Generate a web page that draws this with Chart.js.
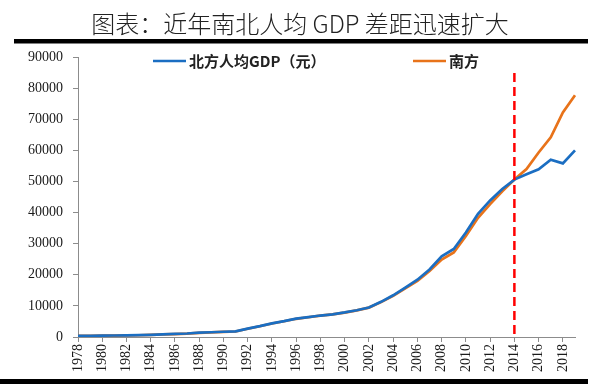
<!DOCTYPE html>
<html>
<head>
<meta charset="utf-8">
<style>
  html, body { margin: 0; padding: 0; background: #fff; }
  #wrap { width: 600px; height: 386px; position: relative; }
</style>
<script src="https://cdn.jsdelivr.net/npm/chart.js@4/dist/chart.umd.min.js"></script>
</head>
<body>
<div id="wrap"><canvas id="gapChart" width="600" height="386"></canvas></div>
<script>
/* 南北人均GDP对比 — line chart, 1978-2019 */

const TITLE = "图表：近年南北人均 GDP 差距迅速扩大";
const YEARS = [];
for (let y = 1978; y <= 2019; y++) YEARS.push(String(y));

const NORTH_LABEL = "北方人均GDP（元）";
const SOUTH_LABEL = "南方";
const MARK_YEAR = "2014";

// values (元)
const NORTH = [
  350, 400, 450, 480, 520, 590, 700, 870, 980, 1120,
  1380, 1520, 1680, 1820, 2700, 3500, 4400, 5100, 5900, 6400,
  6900, 7300, 7900, 8600, 9500, 11300, 13400, 15900, 18400, 21700,
  25900, 28300, 33600, 39600, 43900, 47600, 50600, 52300, 53900, 57000,
  55800, 60000
];
const SOUTH = [
  330, 380, 430, 460, 500, 560, 660, 830, 940, 1080,
  1330, 1470, 1620, 1760, 2650, 3450, 4350, 5050, 5850, 6350,
  6850, 7250, 7850, 8550, 9450, 11200, 13200, 15600, 18000, 21200,
  24900, 27200, 32500, 38300, 42700, 46800, 50600, 54000, 59300, 64200,
  72200, 77700
];

const Y_MAX = 90000;
const Y_STEP = 10000;

const BLUE = "#1b6ec2";
const ORANGE = "#e8731a";
const SERIF = "'Liberation Serif', 'DejaVu Serif', serif";
const CJK = "'Noto Sans CJK SC', sans-serif";

(function () {
  "use strict";

  const decor = {
    id: "decor",
    afterDraw(chart) {
      const ctx = chart.ctx;
      const area = chart.chartArea;
      const xs = chart.scales.x;

      ctx.save();
      // title
      ctx.fillStyle = "#222";
      ctx.font = "300 24px " + CJK;
      ctx.textAlign = "center";
      ctx.textBaseline = "middle";
      ctx.fillText(TITLE, 300, 24);

      // rules
      ctx.fillStyle = "#000";
      ctx.fillRect(14, 39, 574, 4.5);
      ctx.fillRect(0, 379, 588, 5);

      // 2014 marker
      const mx = xs.getPixelForValue(MARK_YEAR);
      ctx.strokeStyle = "#ff0000";
      ctx.lineWidth = 2.5;
      ctx.setLineDash([9, 5]);
      ctx.beginPath();
      ctx.moveTo(mx, 73);
      ctx.lineTo(mx, area.bottom);
      ctx.stroke();
      ctx.setLineDash([]);

      // legend
      const items = [
        { x: 153, ds: chart.data.datasets[0] },
        { x: 413, ds: chart.data.datasets[1] }
      ];
      ctx.textAlign = "left";
      ctx.textBaseline = "middle";
      ctx.font = "bold 15px " + CJK;
      items.forEach(it => {
        ctx.strokeStyle = it.ds.borderColor;
        ctx.lineWidth = 2.5;
        ctx.beginPath();
        ctx.moveTo(it.x, 61);
        ctx.lineTo(it.x + 33, 61);
        ctx.stroke();
        ctx.fillStyle = "#222";
        ctx.fillText(it.ds.label, it.x + 36, 61);
      });
      ctx.restore();
    }
  };

  new Chart(document.getElementById("gapChart"), {
    type: "line",
    data: {
      labels: YEARS,
      datasets: [
        { label: NORTH_LABEL, data: NORTH, borderColor: BLUE, backgroundColor: BLUE,
          borderWidth: 2.7, pointRadius: 0, tension: 0 },
        { label: SOUTH_LABEL, data: SOUTH, borderColor: ORANGE, backgroundColor: ORANGE,
          borderWidth: 2.7, pointRadius: 0, tension: 0 }
      ]
    },
    options: {
      responsive: false,
      animation: false,
      layout: { padding: { top: 57, left: 18, right: 25, bottom: 12 } },
      plugins: {
        legend: { display: false },
        tooltip: { enabled: false }
      },
      scales: {
        x: {
          type: "category",
          offset: false,
          grid: {
            drawOnChartArea: false,
            tickLength: 5,
            color: (c) => (c.index % 2 === 0 ? "#8c8c8c" : "rgba(0,0,0,0)")
          },
          border: { color: "#8c8c8c", width: 1 },
          ticks: {
            autoSkip: false,
            minRotation: 90,
            maxRotation: 90,
            padding: 2,
            color: "#1a1a1a",
            font: { family: SERIF, size: 14 },
            callback: (v, i) => (i % 2 === 0 ? YEARS[i] : "")
          }
        },
        y: {
          min: 0,
          max: Y_MAX,
          grid: { drawOnChartArea: false, tickLength: 5, color: "#8c8c8c" },
          border: { color: "#8c8c8c", width: 1 },
          ticks: {
            stepSize: Y_STEP,
            padding: 10,
            color: "#1a1a1a",
            font: { family: SERIF, size: 14 },
            callback: (v) => String(v)
          }
        }
      }
    },
    plugins: [decor]
  });
})();
</script>
</body>
</html>
